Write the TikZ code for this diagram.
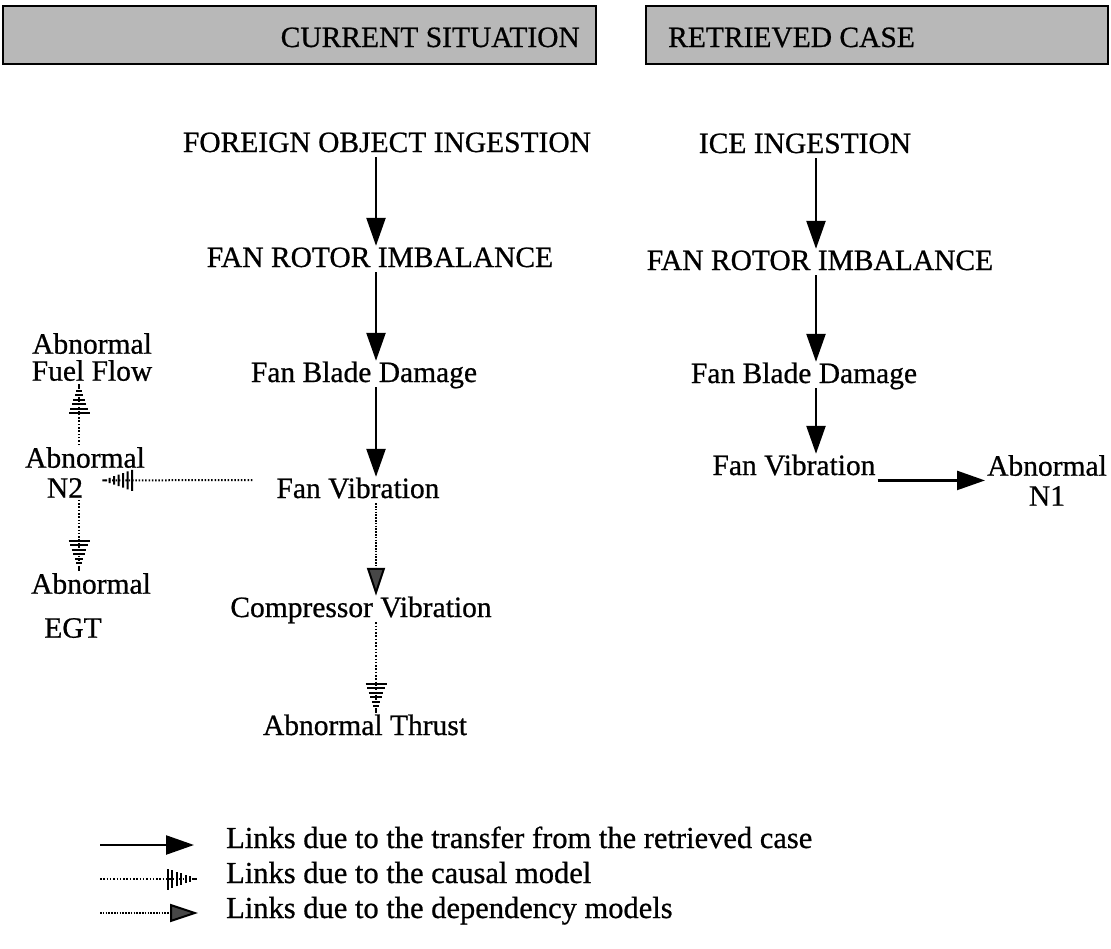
\documentclass[tikz,border=0pt]{standalone}
\usepackage{fontspec}
\setmainfont{Liberation Serif}[UprightFeatures={FakeBold=0.7}]
\usetikzlibrary{arrows.meta,decorations.markings}

\tikzset{
  lbl/.style={inner sep=2pt, anchor=base, text height=19pt, text depth=3pt,
    font=\fontsize{29.5}{28}\selectfont},
  lbltwo/.style={inner sep=2pt, anchor=north, align=center,
    font=\fontsize{29.5}{28}\selectfont},
  hdr/.style={inner sep=0pt, font=\fontsize{29.5}{30}\selectfont},
  leg/.style={inner sep=0pt, anchor=base west, font=\fontsize{30.5}{30}\selectfont},
  hdrbox/.style={draw, line width=1.2pt, fill=black!28},
  transfer/.style={line width=2.4pt, -{Triangle[length=28pt,width=19pt]}},
  depend/.style={line width=2pt, dash pattern=on 1.5pt off 1.3pt,
    -{Triangle[length=28pt,width=18pt,fill=black!72]}},
  causal/.style={line width=2pt, dash pattern=on 1.5pt off 1.8pt,
    decoration={markings, mark=at position 0.999 with {
      \foreach \dd in {3,7.5,...,30}
        \draw[solid,line width=2pt] ({-\dd*1pt},{-0.35*\dd*1pt}) -- ({-\dd*1pt},{0.35*\dd*1pt});}},
    postaction={decorate}},
}

\begin{document}
\begin{tikzpicture}[x=1pt,y=-1pt]
\fill[white] (0,0) rectangle (1111,948);
\useasboundingbox (0,0) rectangle (1111,948);

% headers
\draw[hdrbox] (3,6) rectangle (596,64);
\draw[hdrbox] (646,6) rectangle (1108,64);
\node[hdr, anchor=base east] (hcur) at (580,47) {CURRENT SITUATION};
\node[hdr, anchor=base west] (hret) at (668,47) {RETRIEVED CASE};

\coordinate (colL) at (376,0);
\coordinate (colR) at (816,0);
\coordinate (colN) at (79,0);

% current situation
\node[lbl] (foi) at (387,152) {FOREIGN OBJECT INGESTION};
\node[lbl] (friL) at (380,267) {FAN ROTOR IMBALANCE};
\node[lbl] (fbdL) at (364,382) {Fan Blade Damage};
\node[lbl] (fvL) at (358,498) {Fan Vibration};
\node[lbl] (cv) at (361,617) {Compressor Vibration};
\node[lbl] (at) at (365,735) {Abnormal Thrust};
\node[lbltwo] (ff) at (92,331) {Abnormal\\[-1pt]Fuel Flow};
\node[lbltwo] (n2) at (85,445) {Abnormal\\[2pt]N2\hspace*{40pt}};
\node[lbltwo] (egt) at (91,571) {Abnormal\\[16pt]EGT\hspace*{36pt}};

\draw[transfer] (foi.south -| colL) -- (friL.north -| colL);
\draw[transfer] (friL.south -| colL) -- (fbdL.north -| colL);
\draw[transfer] (fbdL.south -| colL) -- (fvL.north -| colL);
\draw[depend] (fvL.south -| colL) -- (cv.north -| colL);
\draw[causal] (cv.south -| colL) -- (at.north -| colL);
\draw[causal] ([xshift=-22pt,yshift=10pt]fvL.west) -- ([xshift=-45pt,yshift=-8pt]n2.east);
\draw[causal] (n2.north -| colN) -- (ff.south -| colN);
\draw[causal] (n2.south -| colN) -- (egt.north -| colN);

% retrieved case
\node[lbl] (ice) at (805,153) {ICE INGESTION};
\node[lbl] (friR) at (820,270) {FAN ROTOR IMBALANCE};
\node[lbl] (fbdR) at (804,383) {Fan Blade Damage};
\node[lbl] (fvR) at (794,475) {Fan Vibration};
\node[lbltwo] (n1) at (1047,453) {Abnormal\\[2pt]N1};

\draw[transfer] (ice.south -| colR) -- (friR.north -| colR);
\draw[transfer] (friR.south -| colR) -- (fbdR.north -| colR);
\draw[transfer] (fbdR.south -| colR) -- (fvR.north -| colR);
\draw[transfer] (fvR.east |- n1.west) -- (n1.west);

% legend
\coordinate (la1) at (100,845); \coordinate (lb1) at (194,845);
\coordinate (la2) at (100,879); \coordinate (lb2) at (198,879);
\coordinate (la3) at (100,913); \coordinate (lb3) at (198,913);
\draw[transfer] (la1) -- (lb1);
\draw[causal] (la2) -- (lb2);
\draw[depend] (la3) -- (lb3);
\node[leg] (l1) at (226,848) {Links due to the transfer from the retrieved case};
\node[leg] (l2) at (226,883) {Links due to the causal model};
\node[leg] (l3) at (226,918) {Links due to the dependency models};
\end{tikzpicture}
\end{document}
